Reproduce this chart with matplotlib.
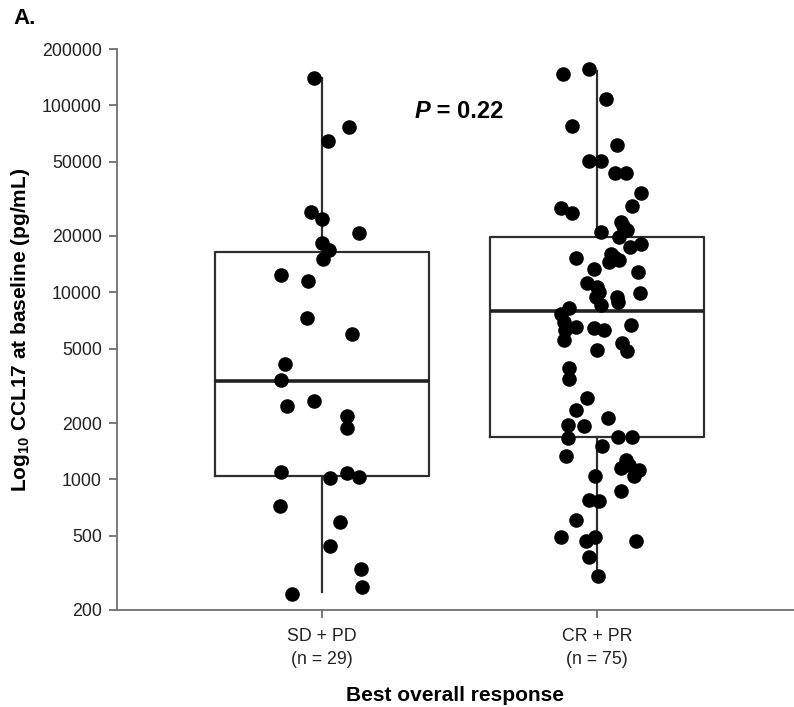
import matplotlib
matplotlib.use('Agg')
import matplotlib.pyplot as plt
import numpy as np
from matplotlib.ticker import NullLocator

plt.rcParams['font.family'] = ['Liberation Sans', 'DejaVu Sans']

groups = ['SD + PD\n(n = 29)', 'CR + PR\n(n = 75)']

# CCL17 values (pg/mL), with their horizontal jitter
sd_pd = [140000, 76500, 64500, 26900, 24700, 20800, 18350, 16850, 15100, 12400,
         11500, 7300, 5950, 4150, 3400, 2470, 2620, 2180, 1880, 1095,
         1015, 1080, 1030, 720, 590, 440, 330, 266, 244]
sd_pd_jitter = [-0.029, 0.098, 0.022, -0.040, 0.000, 0.135, 0.000, 0.025, 0.004, -0.149,
                -0.051, -0.055, 0.109, -0.135, -0.149, -0.127, -0.029, 0.091, 0.091, -0.149,
                0.029, 0.091, 0.135, -0.153, 0.065, 0.029, 0.142, 0.145, -0.109]

cr_pr = [147000, 156400, 108100, 77500, 61300, 50400, 50400, 43450, 43450, 33960,
         28930, 28230, 26550, 23760, 21010, 21530, 19760, 17470, 18120, 15260,
         16020, 14880, 14520, 13320, 12840, 11210, 10670, 9440, 9440, 8870,
         8550, 9910, 8240, 7650, 6940, 6520, 6440, 6290, 6690, 5560,
         5360, 4850, 4910, 3940, 3440, 2720, 2350, 2130, 1950, 1930,
         1660, 1680, 1680, 1510, 1330, 1270, 1150, 1120, 1040, 1040,
         866, 775, 766, 606, 491, 468, 491, 468, 384, 304,
         22620, 15440, 6290, 10030, 1190]
cr_pr_jitter = [-0.123, -0.028, 0.034, -0.090, 0.074, -0.028, 0.016, 0.067, 0.107, 0.161,
                0.128, -0.130, -0.090, 0.088, 0.016, 0.110, 0.081, 0.121, 0.161, -0.075,
                0.052, 0.081, 0.045, -0.010, 0.150, -0.035, 0.001, -0.003, 0.074, 0.077,
                0.016, 0.157, -0.101, -0.130, -0.119, -0.075, -0.010, 0.027, 0.125, -0.119,
                0.092, 0.110, 0.001, -0.101, -0.101, -0.035, -0.075, 0.041, -0.104, -0.046,
                -0.104, 0.077, 0.128, 0.019, -0.112, 0.107, 0.088, 0.154, 0.136, -0.006,
                0.088, -0.028, 0.008, -0.075, -0.130, -0.039, -0.006, 0.143, -0.028, 0.005,
                0.096, 0.063, -0.115, 0.008, 0.117]

# box summary per group
box_q1 = [1042, 1690]
box_med = [3357, 7940]
box_q3 = [16480, 19830]
whisk_lo = [251, 301]
whisk_hi = [140000, 152500]

yticks = [200, 500, 1000, 2000, 5000, 10000, 20000, 50000, 100000, 200000]

fig = plt.figure(figsize=(7.94, 7.07), dpi=100)
ax = fig.add_axes([117 / 794, 1 - 610 / 707, 677 / 794, 561 / 707])

stats = []
for i in range(2):
    stats.append(dict(med=box_med[i], q1=box_q1[i], q3=box_q3[i],
                      whislo=whisk_lo[i], whishi=whisk_hi[i], fliers=[]))

line_c = '#2e2e2e'
ax.bxp(stats, positions=[1, 2], widths=0.775, showcaps=False, showfliers=False,
       boxprops=dict(color=line_c, linewidth=1.6),
       whiskerprops=dict(color=line_c, linewidth=1.6),
       medianprops=dict(color='#222222', linewidth=2.6))

ax.scatter(1 + np.array(sd_pd_jitter), sd_pd, s=110, color='black', linewidths=0, zorder=3)
ax.scatter(2 + np.array(cr_pr_jitter), cr_pr, s=110, color='black', linewidths=0, zorder=3)

ax.set_yscale('log')
ax.set_ylim(200, 200000)
ax.set_xlim(0.2545, 2.7164)
ax.set_yticks(yticks)
ax.set_yticklabels([str(t) for t in yticks])
ax.yaxis.set_minor_locator(NullLocator())
ax.set_xticks([1, 2])
ax.set_xticklabels(groups, linespacing=1.45)

for s in ['top', 'right']:
    ax.spines[s].set_visible(False)
for s in ['left', 'bottom']:
    ax.spines[s].set_color('#707070')
    ax.spines[s].set_linewidth(1.3)
ax.tick_params(color='#707070', length=6, width=1.3, labelsize=12.8,
               labelcolor='#222222', pad=5)
ax.tick_params(axis='x', pad=7)

ax.set_ylabel(r'Log$_{\mathregular{10}}$ CCL17 at baseline (pg/mL)',
              fontsize=15, fontweight='bold', labelpad=7)
ax.set_xlabel('Best overall response', fontsize=15, fontweight='bold', labelpad=13)

ax.text(1.393, 93000, 'P', ha='right', va='center', fontsize=17,
        fontweight='bold', style='italic')
ax.text(1.393, 93000, ' = 0.22', ha='left', va='center', fontsize=17, fontweight='bold')

fig.text(13 / 794, 1 - 18 / 707, 'A.', fontsize=16, fontweight='bold', va='center')

fig.savefig('out.png', dpi=100)
